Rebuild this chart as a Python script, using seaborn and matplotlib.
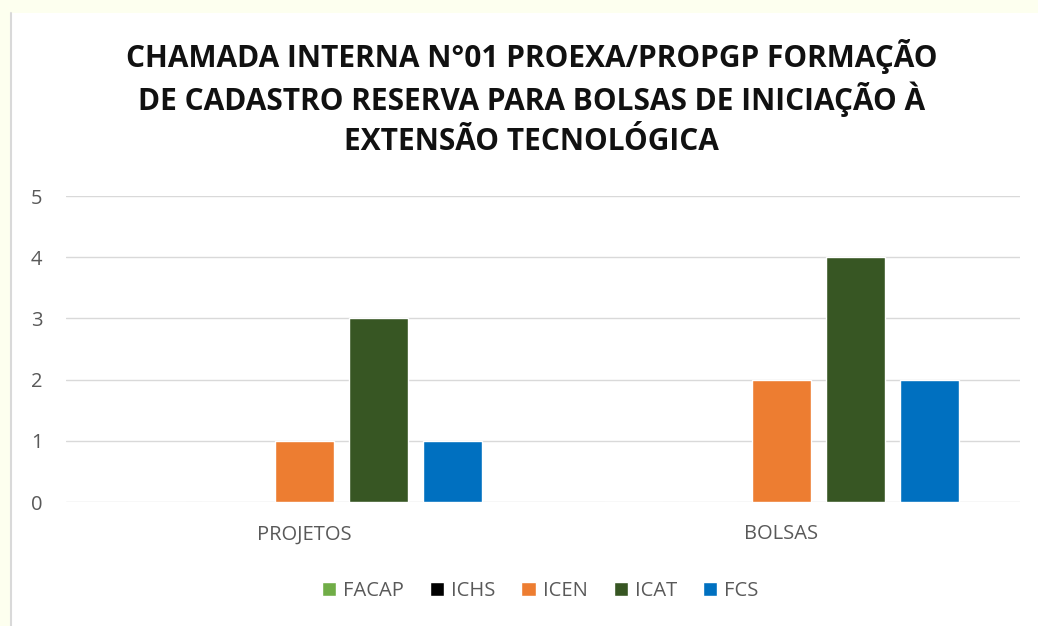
import matplotlib
matplotlib.use("Agg")
import matplotlib.pyplot as plt
import seaborn as sns
import pandas as pd
from matplotlib.patches import Rectangle

# dados do grafico
categorias = ['PROJETOS', 'BOLSAS']
unidades = ['FACAP', 'ICHS', 'ICEN', 'ICAT', 'FCS']
valores_projetos = [0, 0, 1, 3, 1]
valores_bolsas = [0, 0, 2, 4, 2]
cores = ['#70AD47', '#000000', '#ED7D31', '#375623', '#0070C0']
titulo = ['CHAMADA INTERNA N°01 PROEXA/PROPGP FORMAÇÃO',
          'DE CADASTRO RESERVA PARA BOLSAS DE INICIAÇÃO À',
          'EXTENSÃO TECNOLÓGICA']

# tabela longa para o seaborn
datos = pd.DataFrame({
    'categoria': [categorias[0]] * len(unidades) + [categorias[1]] * len(unidades),
    'unidade': unidades + unidades,
    'valor': valores_projetos + valores_bolsas,
})

sns.set_theme(style='white')
plt.rcParams['font.family'] = ['Open Sans', 'DejaVu Sans']

fig = plt.figure(figsize=(10.38, 6.26), dpi=100)
fig.patch.set_facecolor('#FDFFEF')
# area branca do grafico (atras de tudo)
fig.patches.append(Rectangle((10 / 1038, 0), 1 - 10 / 1038, 1 - 13 / 626,
                             transform=fig.transFigure, facecolor='white',
                             edgecolor='none', zorder=-10))
fig.lines.append(plt.Line2D([10.5 / 1038, 10.5 / 1038], [0, 1 - 13 / 626],
                            transform=fig.transFigure, color='#D9D9D9', lw=1.5,
                            zorder=-9))

ax = fig.add_axes([66 / 1038, 1 - 502 / 626, 954 / 1038, 306 / 626])
ax.set_zorder(1)
ax.set_facecolor('white')

sns.barplot(data=datos, x='categoria', y='valor', hue='unidade',
            hue_order=unidades, palette=cores, width=0.776, gap=0.21,
            saturation=1, ax=ax, legend=True)

ax.set_ylim(0, 5)
ax.set_yticks(range(6))
ax.yaxis.grid(True, color='#D9D9D9', lw=1)
ax.set_axisbelow(True)
for s in ax.spines.values():
    s.set_visible(False)
ax.set_xlabel('')
ax.set_ylabel('')
ax.tick_params(axis='y', length=0, pad=17, labelsize=14.5, labelcolor='#595959')
ax.tick_params(axis='x', length=0, pad=16, labelsize=14.5, labelcolor='#595959')

for i, linha in enumerate(titulo):
    fig.text(531.5 / 1038, 1 - (56 + 43 * i) / 626, linha, ha='center', va='center',
             fontsize=21.5, fontweight='bold', color='#111111')

handles, labels = ax.get_legend_handles_labels()
ax.legend(handles, labels, loc='center', bbox_to_anchor=(0.497, -0.29),
          ncol=5, frameon=False, fontsize=14.5, labelcolor='#595959',
          handlelength=0.7, handleheight=0.7, handletextpad=0.35,
          columnspacing=1.3)

fig.savefig('out.png', dpi=100, facecolor=fig.get_facecolor())
